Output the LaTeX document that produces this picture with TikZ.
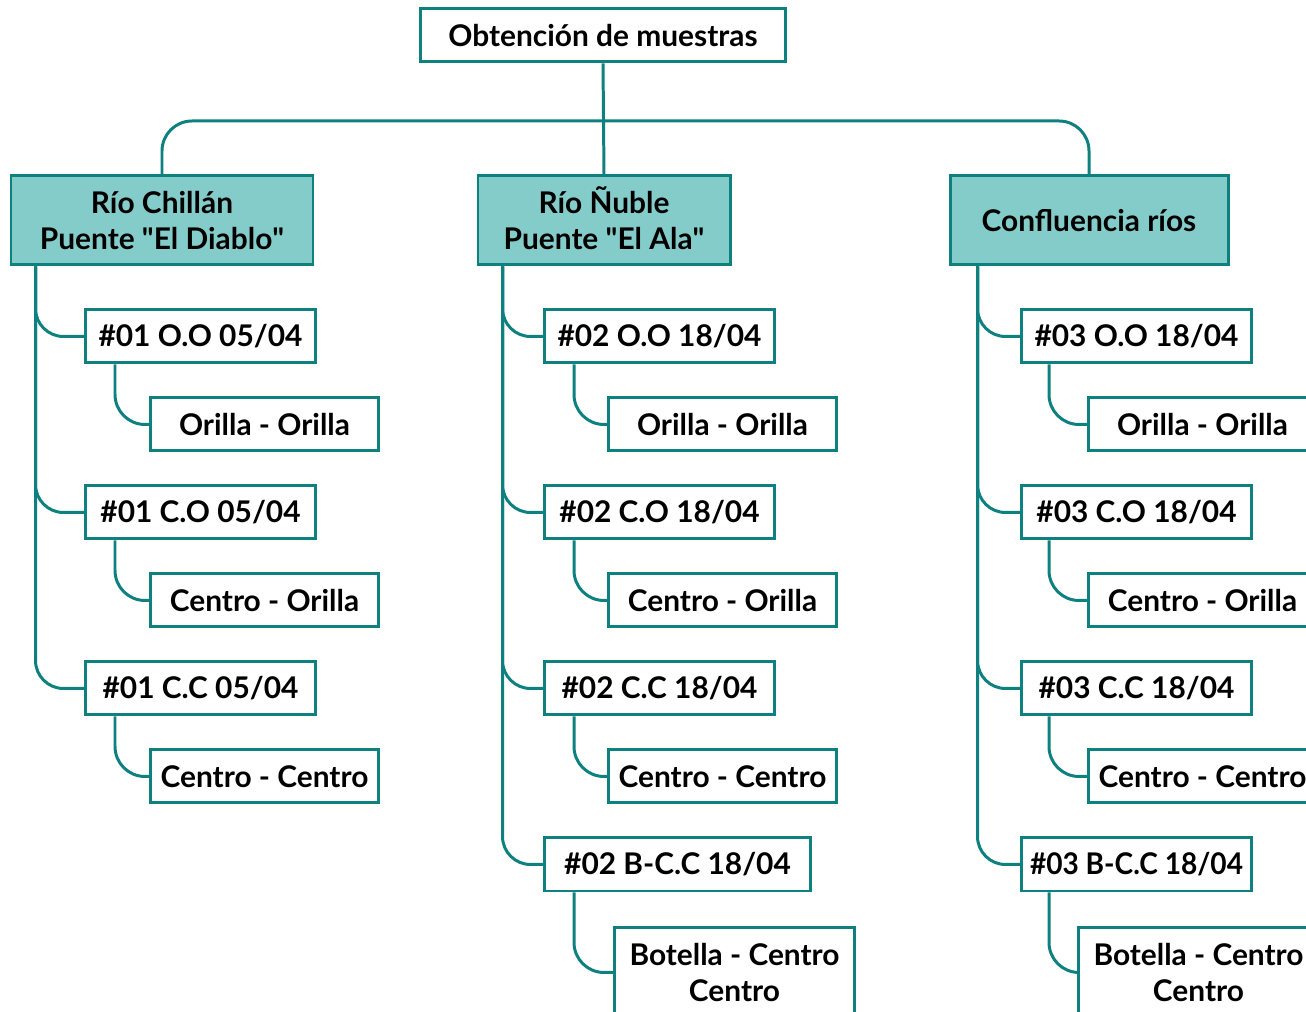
\documentclass[tikz,border=0pt]{standalone}
\usepackage{fontspec}
\setmainfont{Lato}
\usetikzlibrary{positioning,calc}
\definecolor{tealline}{RGB}{14,128,128}
\definecolor{tealfill}{RGB}{132,204,202}

\begin{document}
\begin{tikzpicture}[
    box/.style={rectangle, draw=tealline, line width=1.7pt, inner sep=0pt, align=center, font=\bfseries\fontsize{17}{20}\selectfont},
    rootbox/.style={box, fill=white, minimum width=7.3cm, minimum height=1.06cm},
    riverbox/.style={box, fill=tealfill, minimum height=1.78cm},
    samplebox/.style={box, fill=white, minimum width=4.6cm, minimum height=1.06cm, anchor=west},
    pointbox/.style={box, fill=white, minimum width=4.56cm, minimum height=1.06cm, anchor=west},
    link/.style={draw=tealline, line width=1.7pt, rounded corners=0.56cm}
]

% page: 1306 x 1012 px at 0.02cm per px
\clip (0,0) rectangle (26.12,20.24);

% Root
\node[rootbox] (root) at (12.06, 19.53) {Obtención de muestras};

% Rivers
\node[riverbox, minimum width=6.04cm] (chillan) at (3.24, 15.83) {Río Chillán\\Puente \textquotedbl El Diablo\textquotedbl};
\node[riverbox, minimum width=5.04cm, text depth=0.1cm] (nuble) at (12.08, 15.83) {Río Ñuble\\Puente \textquotedbl El Ala\textquotedbl};
\node[riverbox, minimum width=5.56cm] (confl) at (21.78, 15.83) {Confluencia ríos};

\coordinate (hub) at (12.06, 17.82);
\draw[link] (root.south) -- (nuble.north);
\draw[link, rounded corners=0.6cm] (chillan.north) |- (hub) -| (confl.north);

% Column 1 - Río Chillán
\node[samplebox] (ch1) at (1.68, 13.51) {\#01 O.O 05/04};
\node[pointbox] (ch1-pt) at (2.98, 11.75) {Orilla - Orilla};
\node[samplebox] (ch2) at (1.68, 9.99) {\#01 C.O 05/04};
\node[pointbox] (ch2-pt) at (2.98, 8.23) {Centro - Orilla};
\node[samplebox] (ch3) at (1.68, 6.47) {\#01 C.C 05/04};
\node[pointbox] (ch3-pt) at (2.98, 4.71) {Centro - Centro};

\foreach \n in {ch1,ch2,ch3} {
    \draw[link] ($(chillan.south west)+(0.52,0)$) |- (\n.west);
    \draw[link, rounded corners=0.6cm] ($(\n.south west)+(0.62,0)$) |- (\n-pt.west);
}

% Column 2 - Río Ñuble
\node[samplebox] (nu1) at (10.86, 13.51) {\#02 O.O 18/04};
\node[pointbox] (nu1-pt) at (12.14, 11.75) {Orilla - Orilla};
\node[samplebox] (nu2) at (10.86, 9.99) {\#02 C.O 18/04};
\node[pointbox] (nu2-pt) at (12.14, 8.23) {Centro - Orilla};
\node[samplebox] (nu3) at (10.86, 6.47) {\#02 C.C 18/04};
\node[pointbox] (nu3-pt) at (12.14, 4.71) {Centro - Centro};
\node[samplebox, minimum width=5.32cm] (nu4) at (10.86, 2.95) {\#02 B-C.C 18/04};
\node[pointbox, minimum width=4.8cm, minimum height=1.8cm, anchor=north west] (nu4-pt) at (12.26, 1.72) {Botella - Centro\\Centro};

\foreach \n in {nu1,nu2,nu3,nu4} {
    \draw[link] ($(nuble.south west)+(0.52,0)$) |- (\n.west);
    \draw[link, rounded corners=0.6cm] ($(\n.south west)+(0.62,0)$) |- (\n-pt.west);
}

% Column 3 - Confluencia
\node[samplebox] (co1) at (20.40, 13.51) {\#03 O.O 18/04};
\node[pointbox] (co1-pt) at (21.74, 11.75) {Orilla - Orilla};
\node[samplebox] (co2) at (20.40, 9.99) {\#03 C.O 18/04};
\node[pointbox] (co2-pt) at (21.74, 8.23) {Centro - Orilla};
\node[samplebox] (co3) at (20.40, 6.47) {\#03 C.C 18/04};
\node[pointbox] (co3-pt) at (21.74, 4.71) {Centro - Centro};
\node[samplebox] (co4) at (20.40, 2.95) {\scalebox{0.94}[1]{\#03 B-C.C 18/04}};
\node[pointbox, minimum width=4.8cm, minimum height=1.8cm, anchor=north west] (co4-pt) at (21.54, 1.72) {Botella - Centro\\Centro};

\foreach \n in {co1,co2,co3,co4} {
    \draw[link] ($(confl.south west)+(0.58,0)$) |- (\n.west);
    \draw[link, rounded corners=0.6cm] ($(\n.south west)+(0.58,0)$) |- (\n-pt.west);
}

\end{tikzpicture}
\end{document}
